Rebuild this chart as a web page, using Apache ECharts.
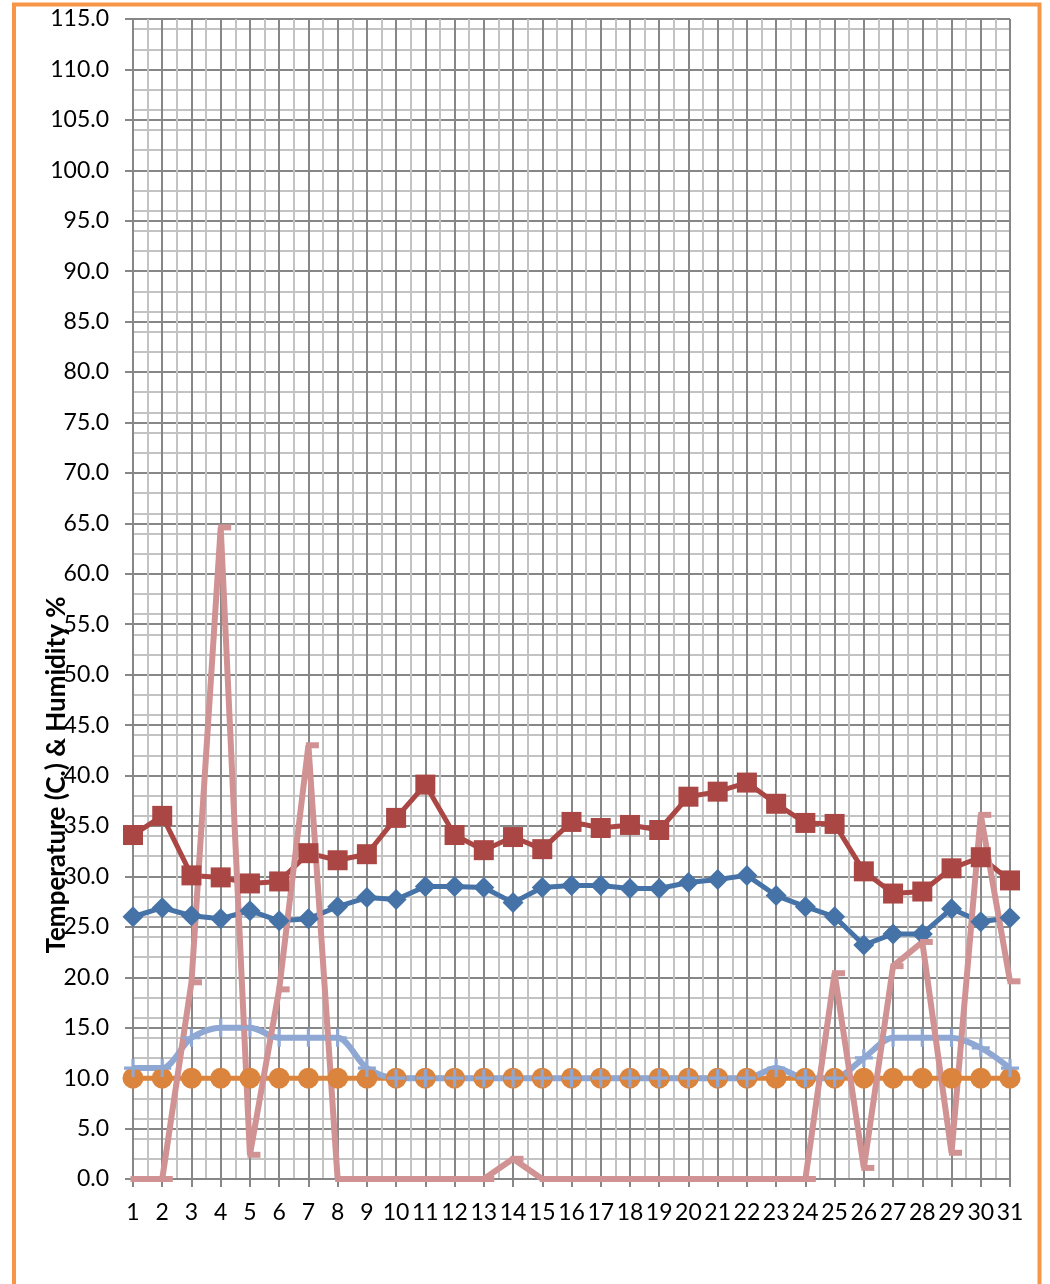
<!DOCTYPE html>
<html>
<head>
<meta charset="utf-8">
<title>Temperature & Humidity</title>
<script src="https://cdn.jsdelivr.net/npm/echarts@6/dist/echarts.min.js"></script>
<style>
  html, body { margin: 0; padding: 0; background: #fff; }
  #chart { width: 1050px; height: 1284px; }
</style>
</head>
<body>
<div id="chart"></div>
<script>
// days of the month
const days = ['1','2','3','4','5','6','7','8','9','10','11','12','13','14','15','16',
  '17','18','19','20','21','22','23','24','25','26','27','28','29','30','31']
// values
const tempBlue = [26.0, 26.9, 26.1, 25.8, 26.6, 25.6, 25.8, 27.0, 27.9, 27.7, 29.0, 29.0, 28.9, 27.4, 28.9, 29.1,
  29.1, 28.8, 28.8, 29.4, 29.7, 30.1, 28.1, 27.0, 26.0, 23.2, 24.3, 24.3, 26.8, 25.5, 25.9]
const tempRed = [34.1, 36.0, 30.1, 29.9, 29.3, 29.5, 32.3, 31.6, 32.2, 35.8, 39.1, 34.1, 32.6, 33.9, 32.7, 35.4,
  34.8, 35.1, 34.6, 37.9, 38.4, 39.3, 37.2, 35.3, 35.2, 30.5, 28.3, 28.5, 30.8, 31.9, 29.6]
const orangeLine = [10, 10, 10, 10, 10, 10, 10, 10, 10, 10, 10, 10, 10, 10, 10, 10,
  10, 10, 10, 10, 10, 10, 10, 10, 10, 10, 10, 10, 10, 10, 10]
const lightBlue = [11, 11, 14, 15, 15, 14, 14, 14, 11, 10, 10, 10, 10, 10, 10, 10,
  10, 10, 10, 10, 10, 10, 11, 10, 10, 12, 14, 14, 14, 13, 11]
const pinkLine = [0, 0, 19.5, 64.6, 2.4, 18.8, 43.0, 0, 0, 0, 0, 0, 0, 2.0, 0, 0,
  0, 0, 0, 0, 0, 0, 0, 0, 20.4, 1.1, 21.1, 23.5, 2.6, 36.1, 19.6]

const FONT = 'Lato'
const DARK = '#878787'
const LIGHT = '#c3c3c3'

let chart = echarts.init(document.getElementById('chart'))
chart.setOption({
  backgroundColor: '#fff',
  animation: false,
  grid: { left: 133, right: 40, top: 19, bottom: 105, containLabel: false, outerBoundsMode: 'none' },
  xAxis: [
    {
      // minor vertical lines every half day
      type: 'value', min: 0, max: 30, interval: 0.5, position: 'bottom',
      axisLine: { show: false }, axisTick: { show: false }, axisLabel: { show: false },
      splitLine: { lineStyle: { color: LIGHT, width: 2 } }
    },
    {
      type: 'category',
      data: days,
      position: 'bottom',
      boundaryGap: false,
      axisLine: { lineStyle: { color: DARK, width: 2 } },
      axisTick: { length: 8, lineStyle: { color: DARK, width: 2 } },
      axisLabel: { color: '#000', fontFamily: FONT, fontSize: 23, margin: 22, interval: 0 },
      splitLine: { show: true, lineStyle: { color: DARK, width: 2 } }
    }
  ],
  yAxis: [
    {
      // minor horizontal lines every 2
      type: 'value', min: 0, max: 115, interval: 2, position: 'left',
      axisLine: { show: false }, axisTick: { show: false }, axisLabel: { show: false },
      splitLine: { lineStyle: { color: LIGHT, width: 2 } }
    },
    {
      type: 'value', min: 0, max: 115, interval: 5, position: 'left',
      axisLine: { show: true, lineStyle: { color: DARK, width: 2 } },
      axisTick: { show: true, length: 8, lineStyle: { color: DARK, width: 2 } },
      axisLabel: {
        color: '#000', fontFamily: FONT, fontSize: 23, margin: 24,
        formatter: v => v.toFixed(1)
      },
      splitLine: { lineStyle: { color: DARK, width: 2 } }
    }
  ],
  series: [
    {
      name: 'Temp A', type: 'line', xAxisIndex: 1, yAxisIndex: 1,
      data: tempBlue,
      symbol: 'diamond', symbolSize: 21,
      itemStyle: { color: '#4572a7' },
      lineStyle: { color: '#4572a7', width: 5 }
    },
    {
      name: 'Temp B', type: 'line', xAxisIndex: 1, yAxisIndex: 1,
      data: tempRed,
      symbol: 'rect', symbolSize: 20,
      itemStyle: { color: '#aa4643' },
      lineStyle: { color: '#aa4643', width: 5 }
    },
    {
      name: 'Line C', type: 'line', xAxisIndex: 1, yAxisIndex: 1,
      data: orangeLine,
      symbol: 'circle', symbolSize: 21,
      itemStyle: { color: '#db843d' },
      lineStyle: { color: '#db843d', width: 5 }
    },
    {
      name: 'Line D', type: 'line', xAxisIndex: 1, yAxisIndex: 1,
      data: lightBlue,
      smooth: 0.3,
      symbol: 'path://M7,0 H10 V7 H17 V10 H10 V17 H7 V10 H0 V7 H7 Z', symbolSize: 18,
      itemStyle: { color: '#8fa8d3' },
      lineStyle: { color: '#8fa8d3', width: 6 }
    },
    {
      name: 'Line E', type: 'line', xAxisIndex: 1, yAxisIndex: 1,
      data: pinkLine,
      symbol: 'rect', symbolSize: [13, 6], symbolOffset: [4, 0],
      itemStyle: { color: '#d09293' },
      lineStyle: { color: '#d09293', width: 6 }
    }
  ],
  graphic: [
    {
      type: 'rect', silent: true,
      shape: { x: 14, y: 4.5, width: 1025.5, height: 1300 },
      style: { fill: 'none', stroke: '#f79646', lineWidth: 4 }
    },
    {
      type: 'text', silent: true,
      x: 57, y: 775, rotation: Math.PI / 2,
      style: {
        text: 'Temperature (C.) & Humidity %',
        fill: '#000', font: 'bold 26px Lato',
        align: 'center', verticalAlign: 'middle'
      },
      z: 100
    }
  ]
})
window.addEventListener('resize', () => { chart.resize() })
</script>
</body>
</html>
